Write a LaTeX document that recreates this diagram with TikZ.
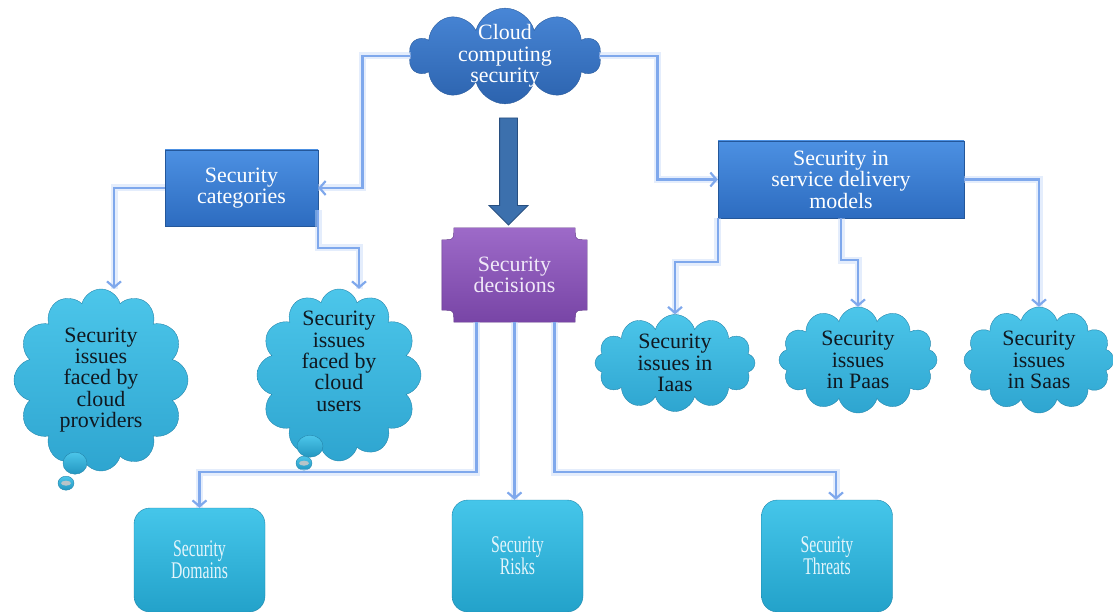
\documentclass[tikz,border=0pt]{standalone}
\usepackage{fontspec}
\setmainfont{Liberation Serif}
\newfontfamily\narrowserif[FakeStretch=0.66]{Liberation Serif}
\usetikzlibrary{shapes.symbols,shapes.arrows,arrows.meta,calc,backgrounds}

\definecolor{linkblue}{HTML}{7FA8EC}
\definecolor{linkglow}{HTML}{C3D7F8}
\definecolor{topline}{HTML}{2A5B9C}
\definecolor{toptop}{HTML}{4886D6}
\definecolor{topbot}{HTML}{2C63AE}
\definecolor{catline}{HTML}{24579A}
\definecolor{cattop}{HTML}{4C90E2}
\definecolor{catbot}{HTML}{2D6CC0}
\definecolor{decline}{HTML}{5E3585}
\definecolor{dectop}{HTML}{9D6AC8}
\definecolor{decbot}{HTML}{7845A6}
\definecolor{dectext}{HTML}{F0E8F8}
\definecolor{cyanline}{HTML}{2586AC}
\definecolor{cyantop}{HTML}{4CC6EA}
\definecolor{cyanbot}{HTML}{2EA5D0}
\definecolor{bubblebot}{HTML}{2396C0}
\definecolor{bubblespot}{HTML}{B8C4C8}
\definecolor{cloudtext}{HTML}{101820}
\definecolor{boxline}{HTML}{1E86AB}
\definecolor{boxtop}{HTML}{45C6EA}
\definecolor{boxbot}{HTML}{23A2CA}
\definecolor{boxtext}{HTML}{E4F5FB}
\definecolor{arrowfill}{HTML}{3C70AD}
\definecolor{arrowline}{HTML}{284F80}

\tikzset{
  txt/.style={font=\fontsize{22}{21.5}\selectfont, align=center},
  topcloud/.style={txt, cloud, cloud puffs=10, cloud ignores aspect, inner sep=-6bp,
    minimum width=192bp, minimum height=92bp, draw=topline, thin,
    top color=toptop, bottom color=topbot, text=white},
  catbox/.style={txt, rectangle, draw=catline, thin, minimum width=153bp, minimum height=76bp,
    top color=cattop, bottom color=catbot, text=white},
  decbox/.style={txt, rectangle, minimum width=145bp, minimum height=94bp, text=dectext},
  decshape/.style={draw=decline, thin, top color=dectop, bottom color=decbot},
  issuecloud/.style={txt, cloud, cloud puffs=12, cloud ignores aspect, inner sep=-8bp,
    draw=cyanline, thin, top color=cyantop, bottom color=cyanbot, text=cloudtext},
  areabox/.style={font=\narrowserif\fontsize{24}{22}\selectfont, align=center, rectangle,
    rounded corners=16bp, draw=boxline, thin, minimum width=131bp, minimum height=112bp,
    top color=boxtop, bottom color=boxbot, text=boxtext},
  bigarrow/.style={single arrow, shape border rotate=270, draw=arrowline, thick, fill=arrowfill,
    inner sep=8.5bp, minimum height=107bp, single arrow head extend=10.5bp},
  bubble/.style={draw=cyanline, thin, top color=cyantop, bottom color=bubblebot},
  link/.style={draw=linkblue, line width=2.2bp, -{Straight Barb[length=6bp,width=14bp]},
    preaction={draw=linkglow, line width=7bp, opacity=0.45, arrows=-}}
}

\begin{document}
\begin{tikzpicture}[x=1bp,y=-1bp,inner sep=0pt]
\useasboundingbox (0,0) rectangle (1113,612);

\node[topcloud] (top) at (505,56) {Cloud\\computing\\security};
\node[catbox] (cat) at (241.5,188) {Security\\categories};
\node[catbox, minimum width=246bp, minimum height=77bp] (sdm) at (841,179.5) {Security in\\service delivery\\models};
\node[decbox] (dec) at (514.5,275) {Security\\decisions};
\node[bigarrow] (down) at (508.5,167) {};

\node[issuecloud, minimum width=174bp, minimum height=182bp] (prov) at (101,380) {Security\\issues\\faced by\\cloud\\providers};
\node[issuecloud, minimum width=164bp, minimum height=172bp] (user) at (339,375) {Security\\issues\\faced by\\cloud\\users\\[6bp]};
\node[issuecloud, minimum width=160bp, minimum height=97bp] (iaas) at (675,363) {Security\\issues in\\Iaas};
\node[issuecloud, minimum width=158bp, minimum height=106bp] (paas) at (858,360) {Security\\issues\\in Paas};
\node[issuecloud, minimum width=150bp, minimum height=106bp] (saas) at (1039,360) {Security\\issues\\in Saas};

\node[areabox, minimum height=104bp] (dom) at (199.5,560) {Security\\Domains};
\node[areabox] (risk) at (517.5,556) {Security\\Risks};
\node[areabox] (thr) at (827,556) {Security\\Threats};

\begin{scope}[on background layer]
\path[decshape] ($(dec.north west)+(12,0)$) -- ($(dec.north east)+(-12,0)$)
  .. controls ($(dec.north east)+(-12,12)$) .. ($(dec.north east)+(0,12)$)
  -- ($(dec.south east)+(0,-12)$)
  .. controls ($(dec.south east)+(-12,-12)$) .. ($(dec.south east)+(-12,0)$)
  -- ($(dec.south west)+(12,0)$)
  .. controls ($(dec.south west)+(12,-12)$) .. ($(dec.south west)+(0,-12)$)
  -- ($(dec.north west)+(0,12)$)
  .. controls ($(dec.north west)+(12,12)$) .. cycle;
\end{scope}

\draw[bubble] ($(prov.south)+(-26,-8)$) ellipse [x radius=12, y radius=11];
\draw[bubble] ($(prov.south)+(-35,12)$) ellipse [x radius=8, y radius=7];
\fill[bubblespot] ($(prov.south)+(-35,12)$) ellipse [x radius=5, y radius=2.5];
\draw[bubble] ($(user.south)+(-29,-15)$) ellipse [x radius=13, y radius=11];
\draw[bubble] ($(user.south)+(-35,2)$) ellipse [x radius=8, y radius=7];
\fill[bubblespot] ($(user.south)+(-35,2)$) ellipse [x radius=5, y radius=2.5];

\draw[link] (top.west) -- ++(-48,0) |- (cat.east);
\draw[link] (top.east) -- ++(58,0) |- (sdm.west);
\draw[link] (cat.west) -| ([xshift=13bp]prov.north);
\draw[link] ([yshift=-22bp]cat.east) -- ++(0,38) -| ([xshift=20bp]user.north);
\draw[link] (sdm.south west) -- ++(0,44) -| (iaas.north);
\draw[link] (sdm.south) -- ++(0,42) -| (paas.north);
\draw[link] (sdm.east) -| (saas.north);
\draw[link] ([xshift=-38bp]dec.south) -- ++(0,150) -| (dom.north);
\draw[link] (dec.south) -- (dec.south |- risk.north);
\draw[link] ([xshift=40bp]dec.south) -- ++(0,150) -| ([xshift=9bp]thr.north);
\end{tikzpicture}
\end{document}
